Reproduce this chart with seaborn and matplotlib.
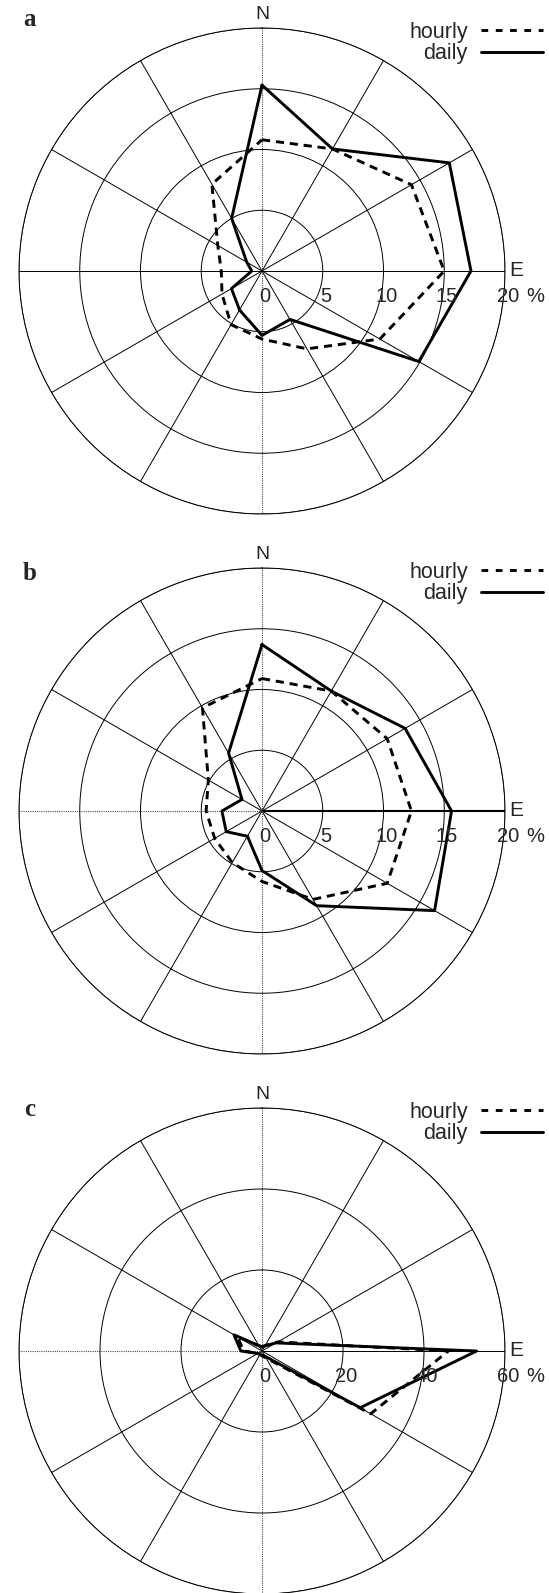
import numpy as np
import pandas as pd
import seaborn as sns
import matplotlib.pyplot as plt

# wind direction sectors, degrees clockwise from north
directions = [0, 30, 60, 90, 120, 150, 180, 210, 240, 270, 300, 330]

# frequency (%) per sector
hourly_a = [10.8, 11.6, 14.2, 15.0, 11.2, 7.4, 5.6, 5.1, 3.8, 3.35, 4.2, 8.25]
daily_a = [15.3, 11.6, 17.8, 17.2, 14.9, 4.6, 5.3, 3.7, 2.9, 0.85, 1.45, 5.0]
hourly_b = [10.9, 11.4, 11.9, 12.3, 11.9, 8.4, 5.8, 4.9, 4.5, 4.6, 5.1, 9.8]
daily_b = [13.7, 11.4, 13.6, 15.6, 16.4, 9.0, 4.9, 2.4, 3.4, 3.3, 1.9, 5.5]
hourly_c = [1.0, 1.5, 4.5, 46.0, 31.0, 2.0, 1.2, 1.0, 1.2, 4.5, 7.0, 1.5]
daily_c = [1.0, 1.5, 4.0, 53.0, 28.0, 1.5, 1.0, 1.0, 1.2, 5.2, 8.0, 1.5]

rings_ab = [5, 10, 15, 20]
rings_c = [20, 40, 60]
panel_labels = ['a', 'b', 'c']

sns.set_style('white')
plt.rcParams['font.family'] = ['Liberation Sans', 'DejaVu Sans']

W, H = 549, 1593
R = 243
cx = 262
centers = [271, 811, 1351]
label_dy = [252, 238, 242]

fig = plt.figure(figsize=(W / 100, H / 100), dpi=100)

panels = [
    (hourly_a, daily_a, rings_ab, 'a'),
    (hourly_b, daily_b, rings_ab, 'b'),
    (hourly_c, daily_c, rings_c, 'c'),
]

for i, (hourly, daily, rings, name) in enumerate(panels):
    cy = centers[i]
    ax = fig.add_axes([(cx - R) / W, (H - cy - R) / H, 2 * R / W, 2 * R / H],
                      projection='polar')
    ax.set_theta_zero_location('N')
    ax.set_theta_direction(-1)

    # close the polygon by repeating the first sector at 360 deg
    df = pd.DataFrame({
        'theta': np.deg2rad(directions + [360]),
        'hourly': hourly + hourly[:1],
        'daily': daily + daily[:1],
    })
    sns.lineplot(data=df, x='theta', y='hourly', ax=ax, estimator=None, sort=False,
                 color='black', lw=2.1, linestyle=(0, (2.8, 2.0)), label='hourly')
    sns.lineplot(data=df, x='theta', y='daily', ax=ax, estimator=None, sort=False,
                 color='black', lw=2.1, label='daily')

    ax.set_ylim(0, rings[-1])
    ax.set_xticks(np.deg2rad(directions))
    ax.set_xticklabels([])
    ax.set_yticks(rings)
    ax.set_yticklabels([])
    ax.set_xlabel('')
    ax.set_ylabel('')
    ax.tick_params(length=0, pad=0)
    ax.grid(True, color='black', lw=0.7)
    ax.spines['polar'].set_color('black')
    ax.spines['polar'].set_linewidth(0.7)

    # N-S axis dotted; in b and c the west half too
    for d, gl in zip(directions, ax.xaxis.get_gridlines()):
        if d in (0, 180) or (name != 'a' and d == 270):
            gl.set_linestyle((0, (1, 1)))
            gl.set_color('0.3')
            gl.set_linewidth(0.8)
        if name == 'b' and d == 90:
            gl.set_linewidth(1.5)

    # radial scale along the east axis
    for r in [0] + rings:
        ax.annotate(str(r), xy=(np.pi / 2, r), xytext=(2, -11.5), textcoords='offset points',
                    ha='center', va='top', fontsize=14.5, annotation_clip=False)
    ax.annotate('%', xy=(np.pi / 2, rings[-1]), xytext=(15, -11.5), textcoords='offset points',
                ha='left', va='top', fontsize=14.5, annotation_clip=False)
    ax.annotate('E', xy=(np.pi / 2, rings[-1]), xytext=(3, 0), textcoords='offset points',
                ha='left', va='center', fontsize=15, annotation_clip=False)
    ax.annotate('N', xy=(0, rings[-1]), xytext=(0, 3.5), textcoords='offset points',
                ha='center', va='bottom', fontsize=14, annotation_clip=False)

    leg = ax.legend(loc='upper right', bbox_to_anchor=(543 / W, 1 - (cy - 249) / H),
                    bbox_transform=fig.transFigure, frameon=False, markerfirst=False,
                    handlelength=2.9, handletextpad=0.6, labelspacing=0.02,
                    borderpad=0, borderaxespad=0, fontsize=15.5)
    leg.get_lines()[0].set_linestyle((0, (2.3, 2.6)))

    fig.text(30 / W, 1 - (cy - label_dy[i]) / H, name, ha='center', va='center',
             fontsize=18, fontweight='bold', family=['Liberation Serif', 'DejaVu Serif'])

fig.savefig('out.png', dpi=100)
